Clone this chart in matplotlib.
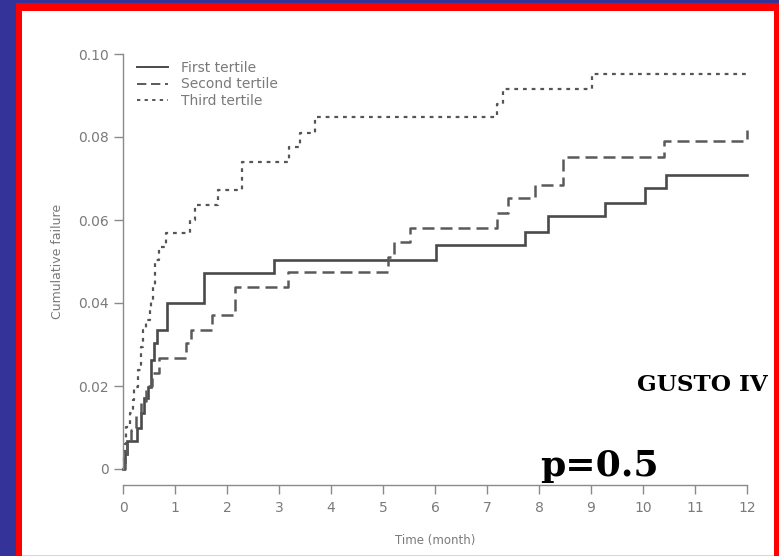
import matplotlib
matplotlib.use("Agg")
import matplotlib.pyplot as plt
from matplotlib.patches import Rectangle

# step times (months) and cumulative failure for each tertile
t_first = [0, 0.02, 0.04, 0.07, 0.26, 0.34, 0.40, 0.48, 0.53, 0.60, 0.66, 0.85,
           1.55, 2.90, 6.02, 7.73, 8.17, 9.27, 10.04, 10.44, 12.0]
f_first = [0, 0.0017, 0.0035, 0.0068, 0.0098, 0.0134, 0.0170, 0.0198, 0.0263, 0.0303, 0.0335, 0.0400,
           0.0472, 0.0504, 0.0540, 0.0572, 0.0610, 0.0642, 0.0678, 0.0708, 0.0708]

t_second = [0, 0.03, 0.08, 0.15, 0.25, 0.35, 0.45, 0.55, 0.70, 1.22, 1.30, 1.72,
            2.15, 3.18, 5.10, 5.21, 5.52, 7.20, 7.40, 7.92, 8.47, 10.40, 12.0]
f_second = [0, 0.0030, 0.0065, 0.0095, 0.0130, 0.0165, 0.0200, 0.0232, 0.0267, 0.0303, 0.0335, 0.0371,
            0.0439, 0.0475, 0.0512, 0.0548, 0.0580, 0.0616, 0.0652, 0.0684, 0.0753, 0.0790, 0.0817]

t_third = [0, 0.02, 0.04, 0.064, 0.13, 0.19, 0.22, 0.29, 0.35, 0.38, 0.45, 0.51, 0.54, 0.58,
           0.62, 0.70, 0.83, 1.28, 1.38, 1.83, 2.28, 3.20, 3.40, 3.69, 7.19, 7.31, 9.01, 12.0]
f_third = [0, 0.0030, 0.0060, 0.0102, 0.0134, 0.0166, 0.0198, 0.0239, 0.0295, 0.0335, 0.0359, 0.0383,
           0.0407, 0.0439, 0.0504, 0.0536, 0.0568, 0.0600, 0.0636, 0.0672, 0.0740, 0.0777, 0.0809,
           0.0849, 0.0880, 0.0915, 0.0951, 0.0951]

labels = ["First tertile", "Second tertile", "Third tertile"]
x_ticks = list(range(0, 13))
y_ticks = [0, 0.02, 0.04, 0.06, 0.08, 0.10]
y_ticklabels = ["0", "0.02", "0.04", "0.06", "0.08", "0.10"]

W, H = 779, 556
fig = plt.figure(figsize=(W / 100, H / 100), dpi=100)
fig.patch.set_facecolor("#333399")

# slide frame: red border around a white panel (behind the axes)
fig.patches.append(Rectangle((16 / W, 0), (W - 16) / W, (H - 3) / H,
                             transform=fig.transFigure, facecolor="#ff0000", edgecolor="none", zorder=-3))
fig.patches.append(Rectangle((22 / W, 0), (774 - 22) / W, (H - 11) / H,
                             transform=fig.transFigure, facecolor="white", edgecolor="none", zorder=-2))
fig.patches.append(Rectangle((22 / W, 0), (774 - 22) / W, 1.2 / H,
                             transform=fig.transFigure, facecolor="#f6c8c8", edgecolor="none", zorder=-1))

ax = fig.add_axes([123 / W, (H - 469) / H, (747 - 123) / W, (469 - 54) / H])
ax.patch.set_alpha(0)

grey_axis = "#8a8a8a"
grey_text = "#7a7a7a"

ax.plot(t_first, f_first, drawstyle="steps-post", color="#4a4a4a", lw=1.9,
        solid_joinstyle="miter", label=labels[0], clip_on=False)
ax.plot(t_second, f_second, drawstyle="steps-post", color="#5a5a5a", lw=1.8,
        dashes=(4.8, 2.4), label=labels[1], clip_on=False)
ax.plot(t_third, f_third, drawstyle="steps-post", color="#555555", lw=1.6,
        dashes=(1.7, 2.2), label=labels[2], clip_on=False)

ax.set_xlim(0, 12)
ax.set_ylim(0, 0.10)
ax.spines["top"].set_visible(False)
ax.spines["right"].set_visible(False)
ax.spines["bottom"].set_position(("outward", 11.5))
ax.spines["left"].set_bounds(0, 0.10)
ax.spines["bottom"].set_bounds(0, 12)
for s in ("left", "bottom"):
    ax.spines[s].set_color(grey_axis)
    ax.spines[s].set_linewidth(1.0)

ax.set_xticks(x_ticks)
ax.set_yticks(y_ticks)
ax.set_yticklabels(y_ticklabels)
ax.tick_params(axis="both", colors=grey_axis, labelcolor=grey_text, labelsize=10,
               length=6.5, width=1.0, direction="out")
ax.tick_params(axis="y", pad=4)
ax.tick_params(axis="x", pad=5)

ax.set_xlabel("Time (month)", fontsize=8.5, color=grey_text, labelpad=14)
ax.set_ylabel("Cumulative failure", fontsize=9, color=grey_text, labelpad=10)

leg = ax.legend(loc="upper left", bbox_to_anchor=((137 - 123) / 624, (469 - 61) / 415),
                frameon=False, fontsize=10, handlelength=2.2, handletextpad=1.0,
                labelspacing=0.18, borderpad=0, borderaxespad=0)
for txt in leg.get_texts():
    txt.set_color(grey_text)
for h in leg.get_lines():
    h.set_linewidth(1.4)

fig.text(702 / W, 1 - 385 / H, "GUSTO IV", fontsize=16.7, fontweight="bold",
         family="DejaVu Serif", ha="center", va="center", color="black")
fig.text(599 / W, 1 - 466 / H, "p=0.5", fontsize=26, fontweight="bold",
         family="DejaVu Serif", ha="center", va="center", color="black")

fig.savefig("out.png", dpi=100, facecolor=fig.get_facecolor())
